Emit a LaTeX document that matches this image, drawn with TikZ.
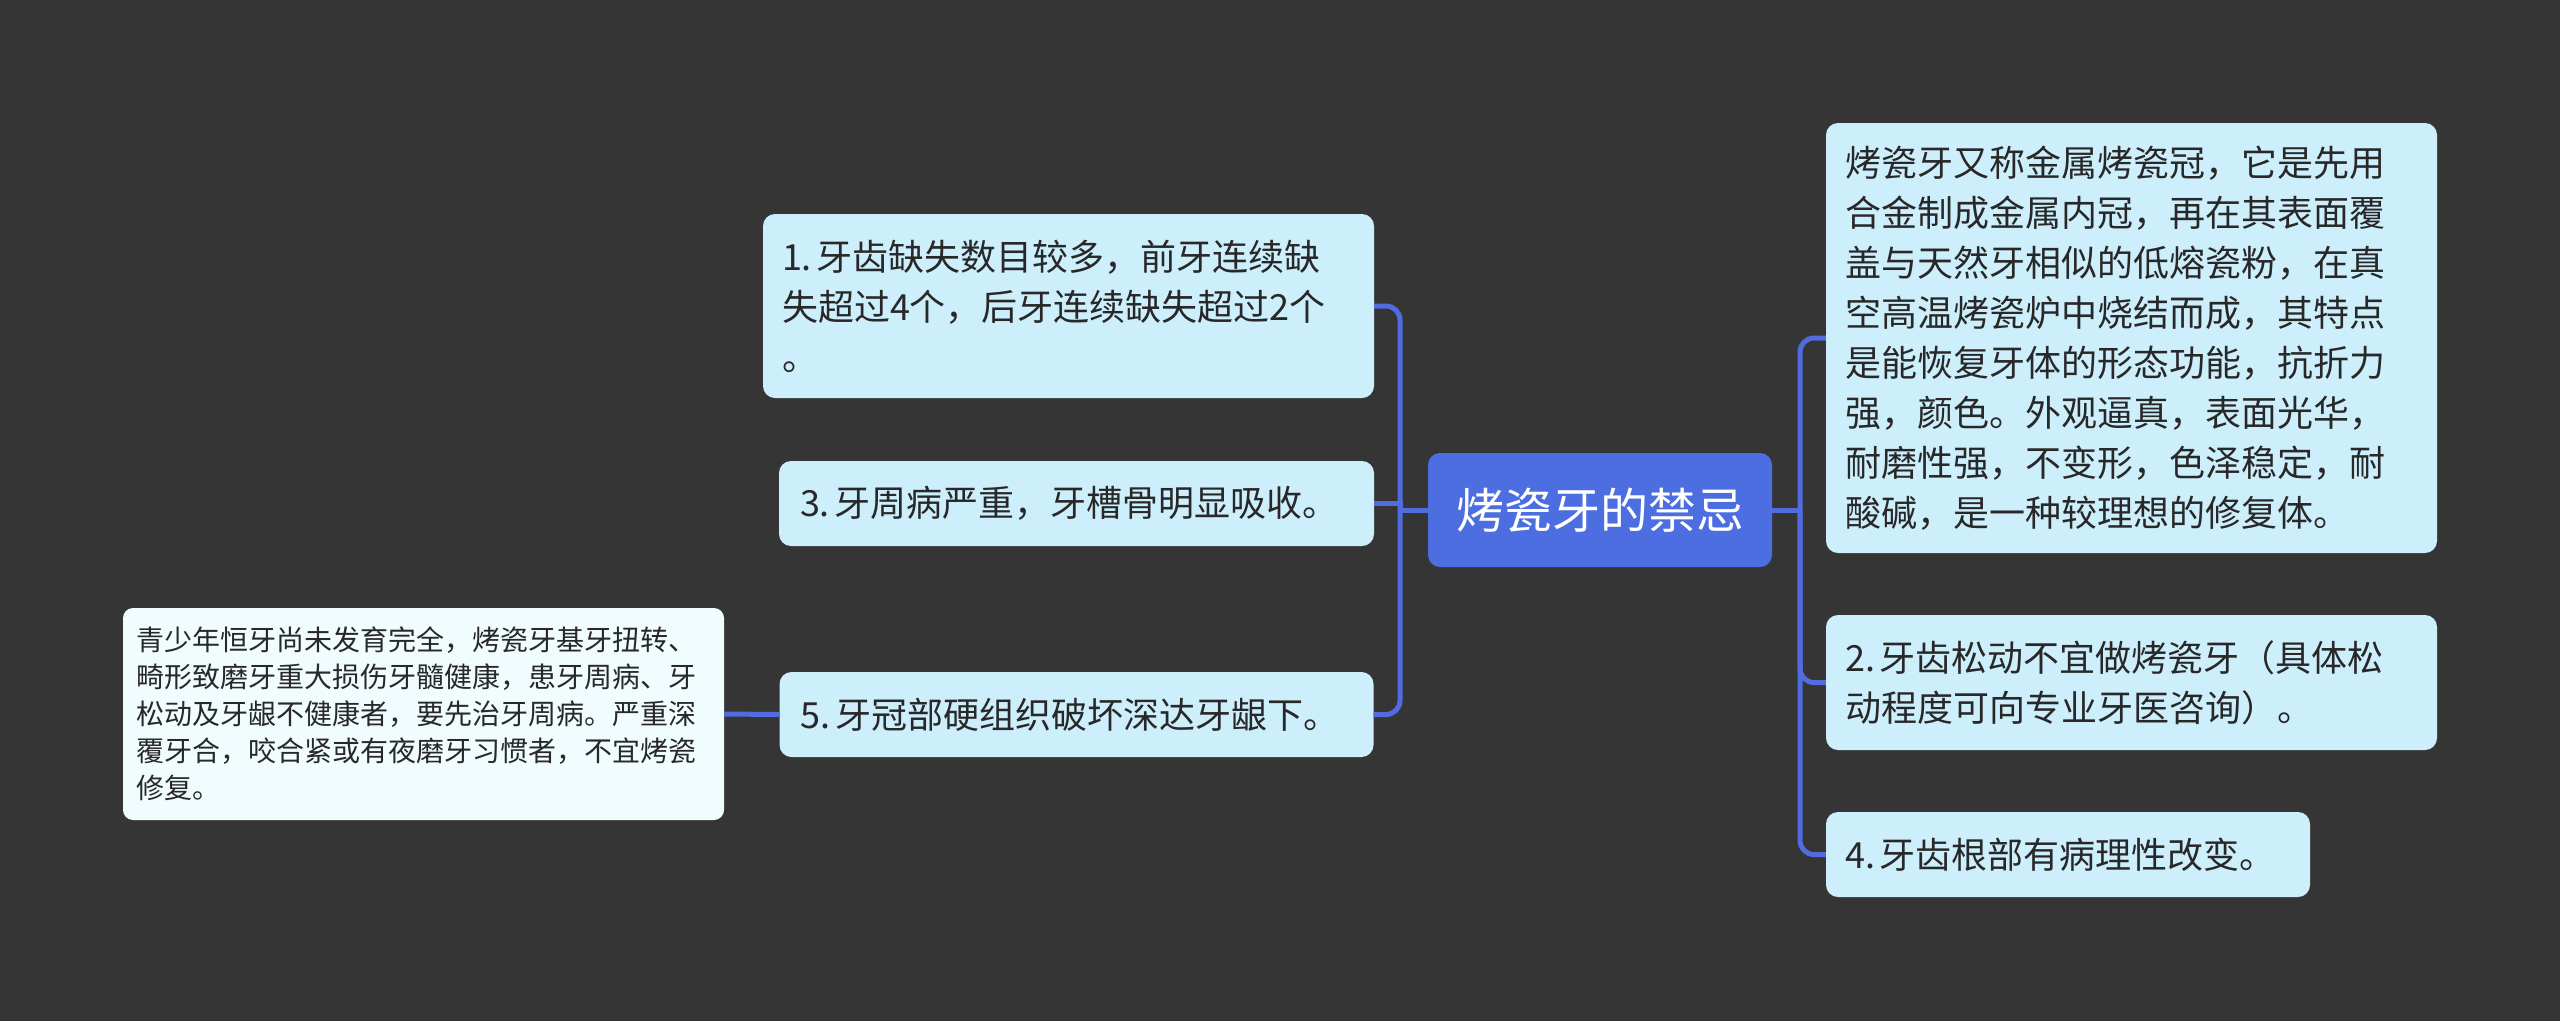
\documentclass[tikz,border=0pt]{standalone}
\usepackage{fontspec}
\setmainfont{Noto Sans CJK SC}
\definecolor{bgc}{RGB}{54,53,54}
\definecolor{leaf}{RGB}{205,239,252}
\definecolor{detail}{RGB}{240,252,253}
\definecolor{rootc}{RGB}{76,110,224}
\definecolor{linec}{RGB}{80,108,222}
\definecolor{txt}{RGB}{40,40,40}
\newcommand{\nsp}{\hspace{5pt}}
\tikzset{
  leafbox/.style={draw=none, fill=leaf, rounded corners=12pt, text=txt, align=left, anchor=center,
     inner xsep=19pt, inner ysep=0pt, font=\fontsize{36}{50}\selectfont},
  rootbox/.style={draw=none, fill=rootc, rounded corners=12pt, text=white, align=center,
     inner sep=0pt, font=\fontsize{48}{56}\selectfont},
  detailbox/.style={draw=none, fill=detail, rounded corners=10pt, text=txt, align=left,
     inner xsep=13pt, inner ysep=0pt, font=\fontsize{28}{37}\selectfont},
  conn/.style={draw=linec, line width=5pt, rounded corners=14pt},
  connsharp/.style={draw=linec, line width=5pt},
}
\begin{document}
\begin{tikzpicture}[x=1pt,y=-1pt]
\fill[bgc] (0,0) rectangle (2560,1021);
\useasboundingbox (0,0) rectangle (2560,1021);

\node[rootbox, minimum width=344pt, minimum height=114pt] (c) at (1600,510) {烤瓷牙的禁忌};

\node[leafbox, text width=573pt, minimum height=184pt] (n1) at (1068.5,306) {1.\nsp 牙齿缺失数目较多，前牙连续缺\\失超过4个，后牙连续缺失超过2个\\。};
\node[leafbox, text width=553pt, inner xsep=21pt, minimum height=85pt] (n3) at (1076.5,503.5) {3.\nsp 牙周病严重，牙槽骨明显吸收。};
\node[leafbox, text width=552pt, inner xsep=21pt, minimum height=85pt] (n5) at (1076.5,714.5) {5.\nsp 牙冠部硬组织破坏深达牙龈下。};

\node[detailbox, text width=575pt, minimum height=212pt] (d) at (423.5,714) {青少年恒牙尚未发育完全，烤瓷牙基牙扭转、\\畸形致磨牙重大损伤牙髓健康，患牙周病、牙\\松动及牙龈不健康者，要先治牙周病。严重深\\覆牙合，咬合紧或有夜磨牙习惯者，不宜烤瓷\\修复。};

\node[leafbox, text width=573pt, minimum height=430pt] (r1) at (2131.5,338) {烤瓷牙又称金属烤瓷冠，它是先用\\合金制成金属内冠，再在其表面覆\\盖与天然牙相似的低熔瓷粉，在真\\空高温烤瓷炉中烧结而成，其特点\\是能恢复牙体的形态功能，抗折力\\强，颜色。外观逼真，表面光华，\\耐磨性强，不变形，色泽稳定，耐\\酸碱，是一种较理想的修复体。};
\node[leafbox, text width=573pt, minimum height=135pt] (n2) at (2131.5,682.5) {2.\nsp 牙齿松动不宜做烤瓷牙（具体松\\动程度可向专业牙医咨询）。};
\node[leafbox, text width=446pt, minimum height=85pt] (n4) at (2068,854.5) {4.\nsp 牙齿根部有病理性改变。};

\coordinate (ls) at (1400,510);
\coordinate (rs) at (1800,510);

\draw[connsharp] (c.west) -- (ls);
\draw[conn] (ls) |- (n1.east);
\draw[connsharp] (ls) |- (n3.east);
\draw[conn] (ls) |- (n5.east);
\draw[connsharp] (n5.west) -- (d.east);

\draw[connsharp] (c.east) -- (rs);
\draw[conn] (rs) |- (r1.west);
\draw[conn] (rs) |- (n2.west);
\draw[conn] (rs) |- (n4.west);
\end{tikzpicture}
\end{document}
